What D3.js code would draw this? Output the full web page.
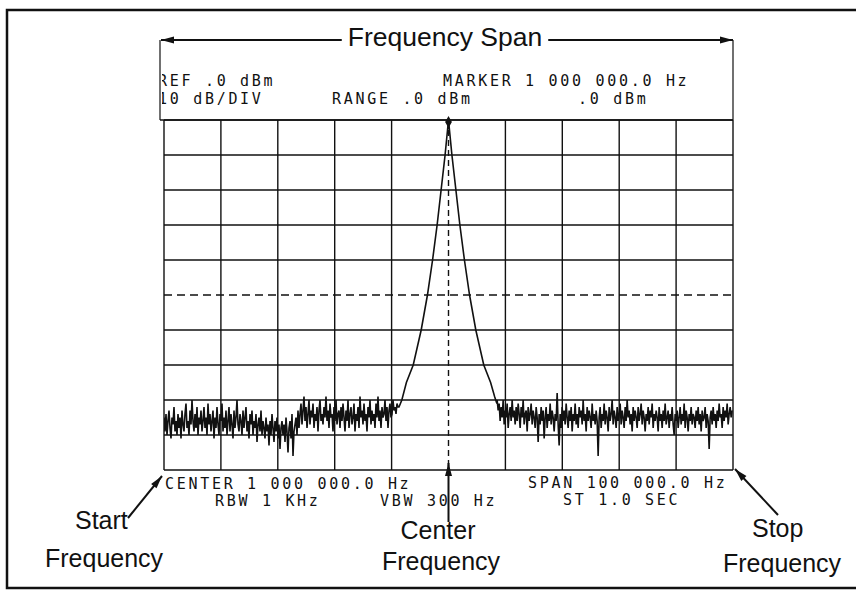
<!DOCTYPE html>
<html>
<head>
<meta charset="utf-8">
<script src="https://cdn.jsdelivr.net/npm/d3@7"></script>
<style>
  body { margin: 0; background: #fff; }
  .lbl { font-family: "Liberation Sans", Arial, sans-serif; font-size: 25px; fill: #111; }
  .ann { font-family: "DejaVu Sans Mono", monospace; font-size: 15px; letter-spacing: 2.7px; fill: #111; }
</style>
</head>
<body>
<svg id="chart" width="856" height="592"></svg>
<script>
// spectrum analyser screen: 100 kHz span round 1 MHz, 0 dBm ref, 10 dB/div
const spanKHz = [-50, 50];
const levelDb = [-100, 0];
const gridKHz = d3.range(-50, 51, 10);
const gridDb = d3.range(-100, 1, 10);

// noise floor (dB), one sample per screen column
const noiseStep = 100 / 569;
const noiseLeftStart = -50;
const noiseLeft = [
  -85, -89, -84, -90, -86, -83, -88, -91, -85, -87, -82, -89, -86, -90, -84, -88, -85, -91, -83, -87,
  -89, -84, -81, -88, -86, -90, -83, -87, -80, -86, -89, -84, -88, -82, -90, -85, -87, -83, -89, -86,
  -82, -88, -85, -90, -81, -87, -84, -89, -86, -83, -91, -85, -88, -82, -87, -90, -84, -86, -81, -89,
  -85, -88, -83, -90, -86, -82, -89, -84, -87, -91, -83, -88, -85, -80, -87, -89, -84, -86, -90, -83,
  -88, -85, -82, -89, -86, -91, -84, -87, -83, -90, -86, -88, -84, -92, -87, -85, -89, -83, -90, -86,
  -88, -91, -85, -89, -87, -93, -86, -90, -84, -88, -92, -86, -89, -85, -91, -87, -94, -88, -86, -90,
  -87, -92, -85, -89, -95, -88, -86, -91, -84, -96, -89, -87, -85, -90, -83, -88, -84, -81, -87, -83,
  -79, -86, -82, -88, -84, -80, -87, -83, -85, -81, -88, -84, -86, -82, -89, -83, -80, -86, -84, -87,
  -82, -85, -79, -86, -83, -88, -81, -85, -84, -89, -82, -86, -80, -87, -84, -83, -88, -82, -86, -81,
  -85, -89, -83, -86, -80, -88, -84, -82, -87, -85, -81, -89, -84, -86, -82, -88, -79, -85, -83, -87,
  -81, -86, -84, -89, -82, -85, -80, -87, -83, -86, -84, -88, -81, -85, -79, -86, -83, -88, -82, -85,
  -84, -80, -86, -82, -88, -83, -81, -85, -84, -80, -83, -82, -84, -81, -82
];
const noiseRightStart = 8.55;
const noiseRight = [
  -80, -83, -81, -86, -82, -85, -80, -87, -83, -85, -81, -88, -84, -82, -86, -80, -85, -83, -87, -82,
  -86, -81, -84, -88, -82, -85, -80, -87, -84, -83, -89, -82, -86, -84, -81, -87, -83, -85, -88, -82,
  -85, -92, -84, -87, -82, -86, -83, -91, -85, -82, -88, -84, -86, -81, -87, -83, -85, -89, -84, -86,
  -78, -87, -93, -84, -88, -82, -86, -83, -87, -81, -85, -88, -83, -86, -82, -89, -84, -86, -81, -87,
  -84, -88, -82, -85, -83, -87, -80, -86, -84, -89, -82, -86, -83, -85, -88, -81, -86, -84, -87, -83,
  -86, -96, -85, -82, -88, -84, -86, -81, -87, -83, -85, -89, -82, -86, -84, -80, -87, -83, -85, -88,
  -82, -86, -84, -81, -87, -83, -85, -88, -82, -86, -80, -85, -83, -87, -84, -89, -82, -86, -83, -85,
  -88, -82, -86, -84, -81, -87, -83, -85, -89, -84, -86, -82, -87, -83, -85, -81, -88, -84, -86, -83,
  -85, -89, -82, -86, -84, -88, -83, -86, -81, -87, -85, -83, -88, -84, -86, -82, -87, -90, -84, -86,
  -83, -88, -85, -82, -87, -84, -86, -81, -88, -83, -85, -89, -84, -86, -82, -87, -84, -85, -88, -83,
  -86, -82, -87, -84, -89, -83, -86, -85, -82, -88, -84, -86, -94, -85, -83, -87, -82, -86, -84, -88,
  -83, -86, -81, -85, -84, -88, -82, -86, -83, -85, -81, -87, -84, -82, -85, -83
];

// the carrier peak (kHz offset, dB)
const peakKHz = [-8.7, -8.2, -7.4, -6.2, -4.8, -3.7, -2.8, -2.0, -1.3, -0.6, 0,
                 0.6, 1.3, 2.0, 2.8, 3.7, 4.8, 6.2, 7.4, 8.1, 8.5];
const peakDb = [-82, -80, -75, -70, -60, -50, -40, -30, -20, -10, 0,
                -10, -20, -30, -40, -50, -60, -70, -75, -79, -81];

// screen annotations
const headerLeft = ['REF .0 dBm', '10 dB/DIV'];
const headerRange = 'RANGE .0 dBm';
const headerMarker = ['MARKER 1 000 000.0 Hz', '.0 dBm'];
const footerLeft = ['CENTER 1 000 000.0 Hz', 'RBW 1 KHz'];
const footerMid = 'VBW 300 Hz';
const footerRight = ['SPAN 100 000.0 Hz', 'ST 1.0 SEC'];

const svg = d3.select('#chart');
const W = 856, H = 592;
const grid = { left: 164, right: 733, top: 120, bottom: 470 };

svg.append('rect').attr('width', W).attr('height', H).attr('fill', '#fff');

// outer frame
svg.append('rect')
  .attr('x', 7).attr('y', 10).attr('width', 860).attr('height', 578)
  .attr('fill', 'none').attr('stroke', '#111').attr('stroke-width', 2.5);

const x = d3.scaleLinear().domain(spanKHz).range([grid.left, grid.right]);
const y = d3.scaleLinear().domain(levelDb).range([grid.bottom, grid.top]);

const defs = svg.append('defs');
defs.append('clipPath').attr('id', 'plot')
  .append('rect').attr('x', grid.left).attr('y', grid.top - 6)
  .attr('width', grid.right - grid.left).attr('height', grid.bottom - grid.top + 12);
defs.append('clipPath').attr('id', 'hdr')
  .append('rect').attr('x', 162).attr('y', 40).attr('width', 600).attr('height', 80);

// header box sides
[160, grid.right].forEach(function (px) {
  svg.append('line')
    .attr('x1', px).attr('x2', px).attr('y1', 40).attr('y2', grid.top)
    .attr('stroke', '#111').attr('stroke-width', 1.2);
});
svg.append('line')
  .attr('x1', 160).attr('x2', grid.right).attr('y1', grid.top).attr('y2', grid.top)
  .attr('stroke', '#111').attr('stroke-width', 1.5);

// graticule
svg.append('g').selectAll('line')
  .data(gridKHz)
  .join('line')
  .attr('x1', function (d) { return x(d); }).attr('x2', function (d) { return x(d); })
  .attr('y1', grid.top).attr('y2', grid.bottom)
  .attr('stroke', '#111').attr('stroke-width', 1.4)
  .attr('stroke-dasharray', function (d) { return d === 0 ? '6,4' : null; });

svg.append('g').selectAll('line')
  .data(gridDb)
  .join('line')
  .attr('x1', grid.left).attr('x2', grid.right)
  .attr('y1', function (d) { return y(d); }).attr('y2', function (d) { return y(d); })
  .attr('stroke', '#111').attr('stroke-width', 1.4)
  .attr('stroke-dasharray', function (d) { return d === -50 ? '8,5' : null; });

// trace
const trace = [];
noiseLeft.forEach(function (v, i) { trace.push([noiseLeftStart + i * noiseStep, v]); });
peakKHz.forEach(function (f, i) { trace.push([f, peakDb[i]]); });
noiseRight.forEach(function (v, i) { trace.push([noiseRightStart + i * noiseStep, v]); });

const line = d3.line()
  .x(function (d) { return x(d[0]); })
  .y(function (d) { return y(d[1]); });

svg.append('path')
  .datum(trace)
  .attr('clip-path', 'url(#plot)')
  .attr('fill', 'none')
  .attr('stroke', '#111')
  .attr('stroke-width', 1.6)
  .attr('d', line);

// marker at the peak
svg.append('path')
  .attr('transform', 'translate(' + x(0) + ',' + (y(0) + 2) + ')')
  .attr('d', d3.symbol(d3.symbolDiamond, 40))
  .attr('fill', '#111');

// header text
const hdr = svg.append('g').attr('clip-path', 'url(#hdr)');
hdr.append('text').attr('class', 'ann').attr('x', 158).attr('y', 86).text(headerLeft[0]);
hdr.append('text').attr('class', 'ann').attr('x', 158).attr('y', 104).text(headerLeft[1]);
hdr.append('text').attr('class', 'ann').attr('x', 332).attr('y', 104).text(headerRange);
hdr.append('text').attr('class', 'ann').attr('x', 443).attr('y', 86).text(headerMarker[0]);
hdr.append('text').attr('class', 'ann').attr('x', 578).attr('y', 104).text(headerMarker[1]);

// footer text
svg.append('text').attr('class', 'ann').attr('x', 165).attr('y', 489).text(footerLeft[0]);
svg.append('text').attr('class', 'ann').attr('x', 215).attr('y', 506).text(footerLeft[1]);
svg.append('text').attr('class', 'ann').attr('x', 380).attr('y', 506).text(footerMid);
svg.append('text').attr('class', 'ann').attr('x', 528).attr('y', 488).text(footerRight[0]);
svg.append('text').attr('class', 'ann').attr('x', 563).attr('y', 505).text(footerRight[1]);

// arrows
function arrowHead(tipX, tipY, angle) {
  svg.append('path')
    .attr('transform', 'translate(' + tipX + ',' + tipY + ') rotate(' + angle + ')')
    .attr('d', 'M0,0 L-13,-3.5 L-13,3.5 Z')
    .attr('fill', '#111');
}
function arrow(x1, y1, x2, y2) {
  svg.append('line')
    .attr('x1', x1).attr('y1', y1).attr('x2', x2).attr('y2', y2)
    .attr('stroke', '#111').attr('stroke-width', 2);
  arrowHead(x2, y2, Math.atan2(y2 - y1, x2 - x1) * 180 / Math.PI);
}

// frequency span
const spanText = svg.append('text').attr('class', 'lbl')
  .attr('x', 445).attr('y', 46).attr('text-anchor', 'middle')
  .style('font-size', '26.5px').text('Frequency Span');
const bb = spanText.node().getBBox();
arrow(bb.x - 6, 40, 161, 40);
arrow(bb.x + bb.width + 6, 40, 733, 40);

// start / center / stop
svg.append('text').attr('class', 'lbl').attr('x', 75).attr('y', 529).text('Start');
svg.append('text').attr('class', 'lbl').attr('x', 45).attr('y', 567).text('Frequency');
arrow(128, 518, 162, 476);

svg.append('text').attr('class', 'lbl').attr('x', 438).attr('y', 539).attr('text-anchor', 'middle').text('Center');
svg.append('text').attr('class', 'lbl').attr('x', 441).attr('y', 570).attr('text-anchor', 'middle').text('Frequency');
arrow(x(0), 522, x(0), 463);

svg.append('text').attr('class', 'lbl').attr('x', 752).attr('y', 537).text('Stop');
svg.append('text').attr('class', 'lbl').attr('x', 723).attr('y', 572).text('Frequency');
arrow(778, 515, 735, 469);
</script>
</body>
</html>
